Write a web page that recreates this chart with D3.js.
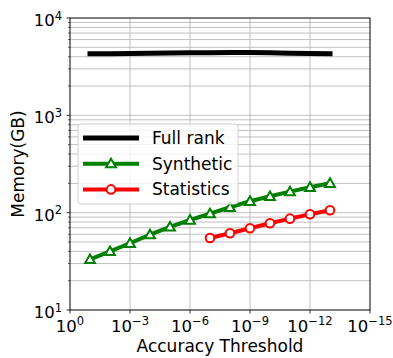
<!DOCTYPE html>
<html>
<head>
<meta charset="utf-8">
<script src="https://cdn.jsdelivr.net/npm/d3@7"></script>
<style>
  body { margin: 0; background: #fff; }
  svg text { font-family: "DejaVu Sans", sans-serif; fill: #000; }
</style>
</head>
<body>
<div id="chart"></div>
<script>
// data
var thresholds = [1e-1, 1e-2, 1e-3, 1e-4, 1e-5, 1e-6, 1e-7, 1e-8, 1e-9, 1e-10, 1e-11, 1e-12, 1e-13];
var fullRank = [4300, 4300, 4320, 4350, 4380, 4400, 4400, 4420, 4420, 4400, 4350, 4320, 4300];
var synthetic = [33.2, 40.1, 48.5, 59.4, 71.3, 84.1, 97.7, 113.6, 131, 147.4, 164.4, 182.4, 200.5];
var statsThresholds = [1e-7, 1e-8, 1e-9, 1e-10, 1e-11, 1e-12, 1e-13];
var statistics = [55, 61.4, 69.1, 77.8, 86.8, 96.2, 105.8];

var xTicks = [0, -3, -6, -9, -12, -15];   // exponents
var yTicks = [1, 2, 3, 4];

var margin = { top: 18, right: 23, bottom: 48, left: 70 },
  width = 393 - margin.left - margin.right,
  height = 358 - margin.top - margin.bottom;

var svg = d3.select("#chart")
  .append("svg")
  .attr("width", 393)
  .attr("height", 358)
  .append("g")
  .attr("transform", "translate(" + margin.left + "," + margin.top + ")");

var x = d3.scaleLog().domain([1, 1e-15]).range([0, width]);
var y = d3.scaleLog().domain([10, 1e4]).range([height, 0]);

// minor values for the y grid
var yMinor = [];
for (var e = 1; e < 4; e++) {
  for (var m = 2; m < 10; m++) yMinor.push(m * Math.pow(10, e));
}

// grid
var grid = svg.append("g").attr("class", "grid");
grid.selectAll("line.hy")
  .data(yMinor.concat([100, 1000]))
  .enter().append("line")
  .attr("x1", 0).attr("x2", width)
  .attr("y1", function (d) { return y(d); })
  .attr("y2", function (d) { return y(d); })
  .attr("stroke", "#b0b0b0").attr("stroke-width", 0.8);
grid.selectAll("line.vx")
  .data([-3, -6, -9, -12])
  .enter().append("line")
  .attr("y1", 0).attr("y2", height)
  .attr("x1", function (d) { return x(Math.pow(10, d)); })
  .attr("x2", function (d) { return x(Math.pow(10, d)); })
  .attr("stroke", "#b0b0b0").attr("stroke-width", 0.8);

// lines
var line = d3.line()
  .x(function (d) { return x(d[0]); })
  .y(function (d) { return y(d[1]); });

svg.append("path")
  .datum(d3.zip(thresholds, fullRank))
  .attr("d", line)
  .attr("fill", "none")
  .attr("stroke", "#000")
  .attr("stroke-width", 5)
  .attr("stroke-linecap", "square");

svg.append("path")
  .datum(d3.zip(thresholds, synthetic))
  .attr("d", line)
  .attr("fill", "none")
  .attr("stroke", "#008000")
  .attr("stroke-width", 4)
  .attr("stroke-linejoin", "round");

svg.append("path")
  .datum(d3.zip(statsThresholds, statistics))
  .attr("d", line)
  .attr("fill", "none")
  .attr("stroke", "#ff0000")
  .attr("stroke-width", 4)
  .attr("stroke-linejoin", "round");

var tri = d3.symbol().type(d3.symbolTriangle).size(42);

svg.selectAll("path.tri")
  .data(d3.zip(thresholds, synthetic))
  .enter().append("path")
  .attr("class", "tri")
  .attr("d", tri)
  .attr("transform", function (d) { return "translate(" + x(d[0]) + "," + (y(d[1]) + 0.8) + ")"; })
  .attr("fill", "#fff")
  .attr("stroke", "#008000")
  .attr("stroke-width", 2);

svg.selectAll("circle.dot")
  .data(d3.zip(statsThresholds, statistics))
  .enter().append("circle")
  .attr("class", "dot")
  .attr("cx", function (d) { return x(d[0]); })
  .attr("cy", function (d) { return y(d[1]); })
  .attr("r", 4.3)
  .attr("fill", "#fff")
  .attr("stroke", "#ff0000")
  .attr("stroke-width", 2);

// frame
svg.append("rect")
  .attr("width", width).attr("height", height)
  .attr("fill", "none").attr("stroke", "#000").attr("stroke-width", 1);

// power label helper: 10 with a raised exponent
function powLabel(sel, exp) {
  sel.text(null);
  sel.append("tspan").text("10");
  sel.append("tspan")
    .attr("dy", -6.5)
    .style("font-size", "11.5px")
    .text(String(exp).replace("-", "\u2212"));
}

// x axis
var xAxis = svg.append("g").attr("transform", "translate(0," + height + ")");
xTicks.forEach(function (e) {
  var px = x(Math.pow(10, e));
  xAxis.append("line").attr("x1", px).attr("x2", px).attr("y1", 0).attr("y2", 3.5)
    .attr("stroke", "#000").attr("stroke-width", 0.8);
  var t = xAxis.append("text")
    .attr("x", px).attr("y", 21.5)
    .attr("text-anchor", "middle")
    .style("font-size", "16.5px");
  powLabel(t, e);
});

// y axis
var yAxis = svg.append("g");
yMinor.forEach(function (v) {
  yAxis.append("line").attr("x1", -2).attr("x2", 0).attr("y1", y(v)).attr("y2", y(v))
    .attr("stroke", "#000").attr("stroke-width", 0.6);
});
yTicks.forEach(function (e) {
  var py = y(Math.pow(10, e));
  yAxis.append("line").attr("x1", -3.5).attr("x2", 0).attr("y1", py).attr("y2", py)
    .attr("stroke", "#000").attr("stroke-width", 0.8);
  var t = yAxis.append("text")
    .attr("x", -8).attr("y", py + 8)
    .attr("text-anchor", "end")
    .style("font-size", "16.5px");
  powLabel(t, e);
});

// axis labels
svg.append("text")
  .attr("x", width / 2)
  .attr("y", height + 42)
  .attr("text-anchor", "middle")
  .style("font-size", "17px")
  .text("Accuracy Threshold");

svg.append("g")
  .attr("transform", "translate(" + (-46) + "," + (height / 2) + ")")
  .append("text")
  .attr("text-anchor", "middle")
  .attr("transform", "rotate(-90)")
  .style("font-size", "17px")
  .text("Memory(GB)");

// legend
var legend = svg.append("g").attr("transform", "translate(8,106)");
legend.append("rect")
  .attr("width", 160).attr("height", 80).attr("rx", 3)
  .attr("fill", "#fff").attr("fill-opacity", 0.8)
  .attr("stroke", "#d0d0d0").attr("stroke-width", 1);

var entries = [
  { name: "Full rank", color: "#000", marker: null },
  { name: "Synthetic", color: "#008000", marker: "tri" },
  { name: "Statistics", color: "#ff0000", marker: "circle" }
];
entries.forEach(function (d, i) {
  var ly = 14 + i * 25.7;
  legend.append("line")
    .attr("x1", 5).attr("x2", 61).attr("y1", ly).attr("y2", ly)
    .attr("stroke", d.color).attr("stroke-width", i === 0 ? 5 : 4);
  if (d.marker === "tri") {
    legend.append("path").attr("d", tri)
      .attr("transform", "translate(33," + (ly + 0.8) + ")")
      .attr("fill", "#fff").attr("stroke", d.color).attr("stroke-width", 2);
  } else if (d.marker === "circle") {
    legend.append("circle").attr("cx", 33).attr("cy", ly).attr("r", 4.3)
      .attr("fill", "#fff").attr("stroke", d.color).attr("stroke-width", 2);
  }
  legend.append("text")
    .attr("x", 74).attr("y", ly + 6)
    .style("font-size", "17px")
    .text(d.name);
});
</script>
</body>
</html>
